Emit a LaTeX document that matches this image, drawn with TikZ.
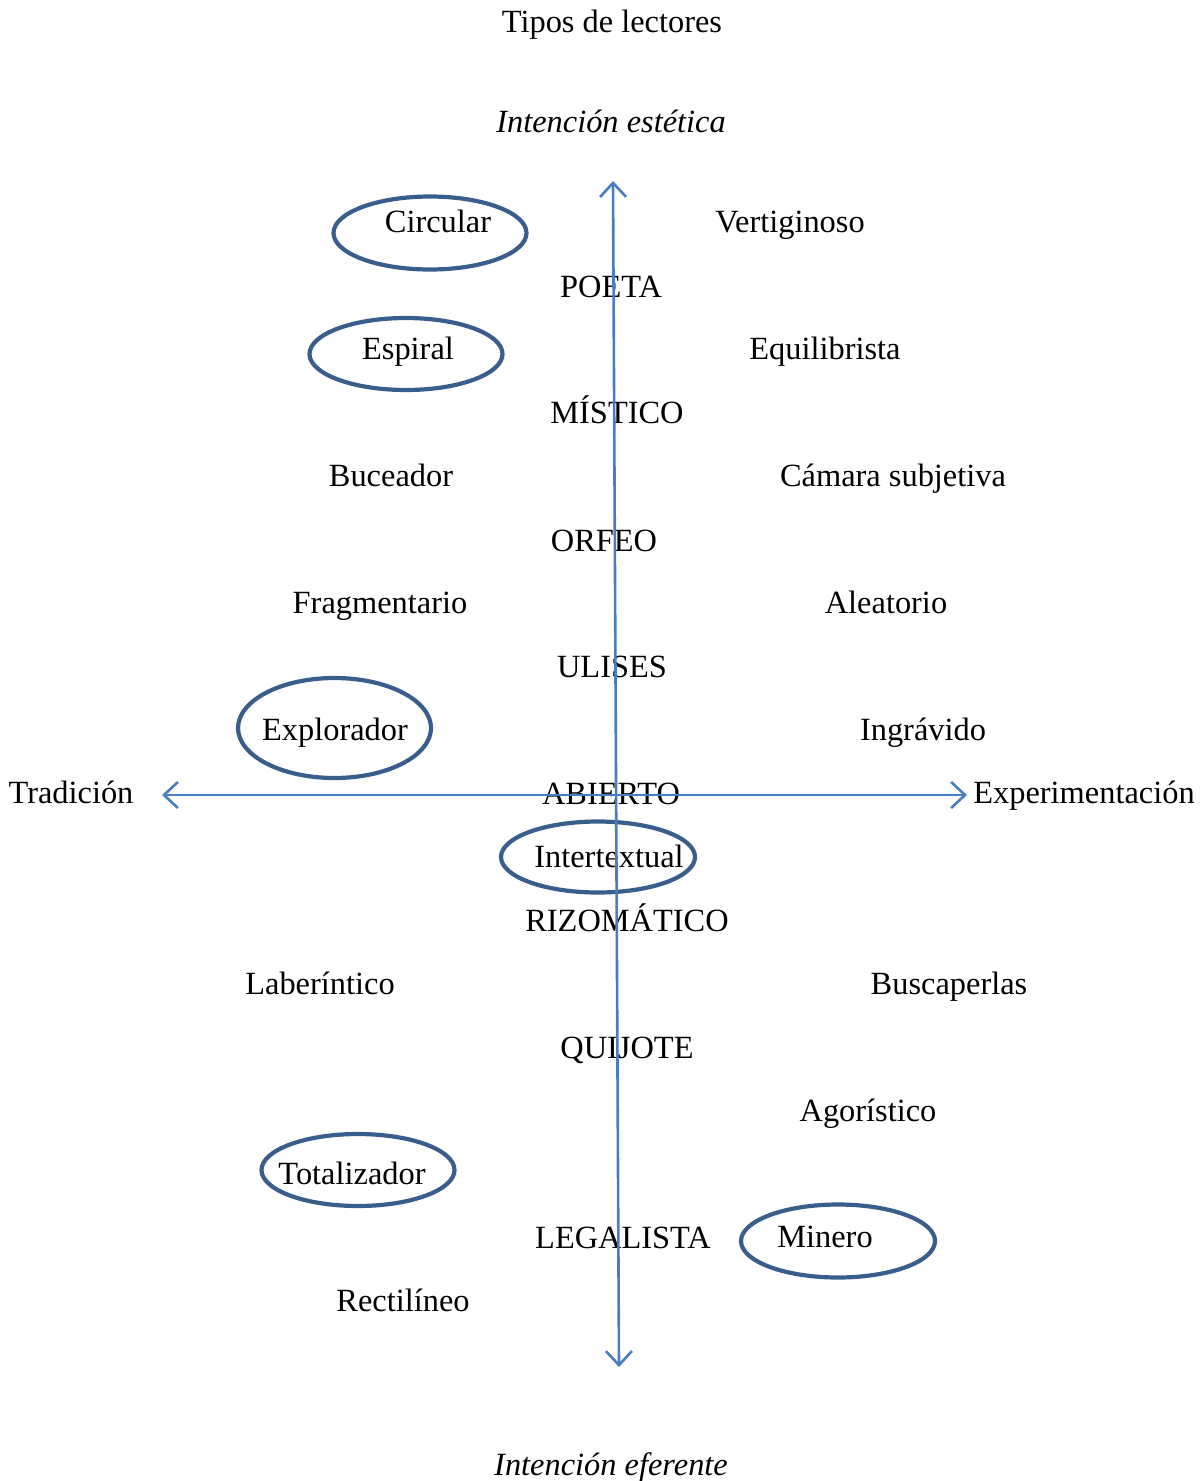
\documentclass[tikz,border=0pt]{standalone}
\usepackage{fontspec}
\setmainfont{Liberation Serif}
\usetikzlibrary{arrows.meta,shapes.geometric}
\definecolor{axisblue}{RGB}{72,126,192}
\definecolor{ringblue}{RGB}{58,94,140}
\begin{document}
\begin{tikzpicture}[x=1pt,y=-1pt,
  lbl/.style={inner sep=0pt,anchor=base,font=\fontsize{32.4}{38}\selectfont},
  ilbl/.style={lbl,font=\fontsize{32.4}{38}\selectfont\itshape},
  ring/.style={draw=ringblue,line width=4.2pt,ellipse,inner sep=0pt},
  axis/.style={draw=axisblue,line width=2.6pt,
    arrows={Straight Barb[length=14pt,width=26pt,line width=2.6pt]-Straight Barb[length=14pt,width=26pt,line width=2.6pt]}}]
\useasboundingbox (0,0) rectangle (1202,1481);

% ellipses around selected reader types
\node[ring,minimum width=193pt,minimum height=73pt] (eCirc) at (430,233) {};
\node[ring,minimum width=193pt,minimum height=72pt] (eEsp) at (406,354) {};
\node[ring,minimum width=193pt,minimum height=100pt] (eExp) at (334.5,728) {};
\node[ring,minimum width=194pt,minimum height=71pt] (eInt) at (598,857) {};
\node[ring,minimum width=193pt,minimum height=72pt] (eTot) at (358,1170) {};
\node[ring,minimum width=194pt,minimum height=73pt] (eMin) at (838,1241) {};

% titles and axis labels
\node[lbl] (title) at (612,32) {Tipos de lectores};
\node[ilbl] (top) at (611,132) {Intención estética};
\node[ilbl] (bot) at (611,1475) {Intención eferente};
\node[lbl] (left) at (71,803) {Tradición};
\node[lbl] (right) at (1084,803) {Experimentación};

% central column
\node[lbl] (poeta) at (611,297) {POETA};
\node[lbl] (mistico) at (617,423) {MÍSTICO};
\node[lbl] (orfeo) at (604,551) {ORFEO};
\node[lbl] (ulises) at (612,677) {ULISES};
\node[lbl] (abierto) at (611,804) {ABIERTO};
\node[lbl] (rizo) at (627,931) {RIZOMÁTICO};
\node[lbl] (quijote) at (627,1058) {QUIJOTE};
\node[lbl] (legal) at (623,1248) {LEGALISTA};

% left side
\node[lbl] (circ) at (438,232) {Circular};
\node[lbl] (esp) at (408,359) {Espiral};
\node[lbl] (buc) at (391,486) {Buceador};
\node[lbl] (frag) at (380,613) {Fragmentario};
\node[lbl] (expl) at (335,740) {Explorador};
\node[lbl] (inter) at (609,867) {Intertextual};
\node[lbl] (labe) at (320,994) {Laberíntico};
\node[lbl] (tot) at (352,1184) {Totalizador};
\node[lbl] (rect) at (403,1311) {Rectilíneo};

% right side
\node[lbl] (vert) at (790,232) {Vertiginoso};
\node[lbl] (equi) at (825,359) {Equilibrista};
\node[lbl] (cama) at (893,486) {Cámara subjetiva};
\node[lbl] (alea) at (886,613) {Aleatorio};
\node[lbl] (ingr) at (923,740) {Ingrávido};
\node[lbl] (busc) at (949,994) {Buscaperlas};
\node[lbl] (agor) at (868,1121) {Agorístico};
\node[lbl] (min) at (825,1247) {Minero};

% axes
\coordinate (vtop) at (613,181);
\coordinate (vbot) at (619,1367);
\coordinate (hl) at (162,795);
\coordinate (hr) at (967,795);
\draw[axis] (vbot) -- (vtop);
\draw[axis] (hl) -- (hr);
\end{tikzpicture}
\end{document}
